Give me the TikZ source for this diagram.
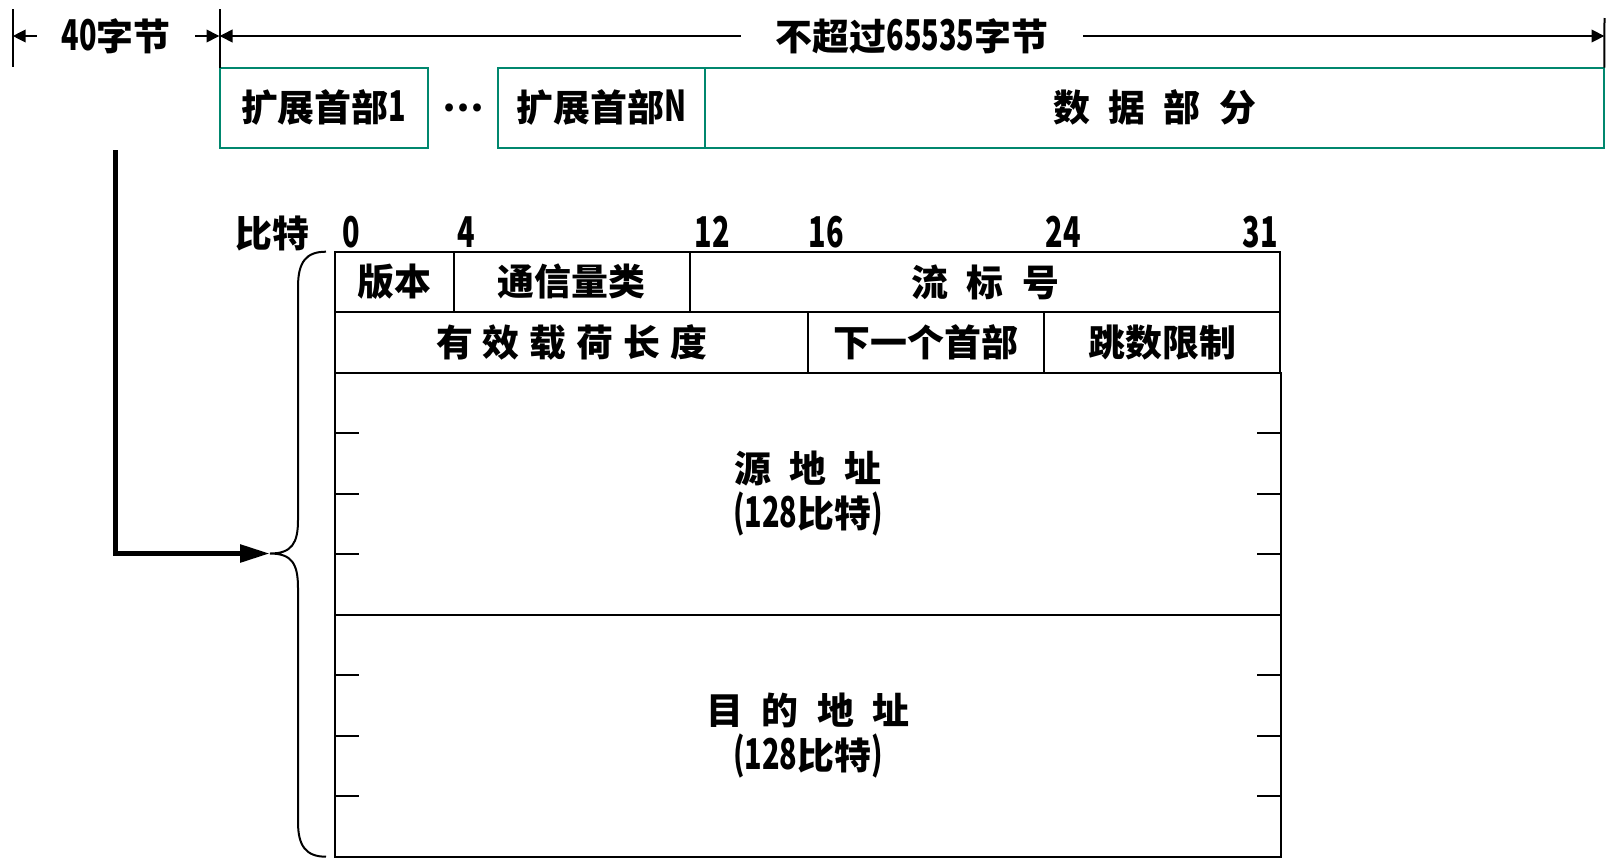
\documentclass[tikz,border=0pt]{standalone}
\usepackage{fontspec}
\setmainfont{Noto Sans CJK SC}[BoldFont={* Black}]
\newfontfamily\narrowfont{Noto Sans CJK SC}[BoldFont={* Black},FakeStretch=0.68,Scale=1.15]
\usetikzlibrary{positioning,arrows.meta}
\definecolor{verdeCab}{RGB}{0,135,110}
\newcommand{\estrecho}[1]{{\narrowfont\bfseries #1}}
\newcommand{\zigap}{\hspace{0.5em}}
\tikzstyle{Texto}=[font=\fontsize{21}{25}\selectfont\bfseries, inner sep=0pt]
\tikzstyle{Cabecera}=[rectangle, draw=verdeCab, line width=0.04cm, minimum height=1.606cm, inner sep=0pt, outer sep=0pt, font=\fontsize{21}{25}\selectfont\bfseries]
\tikzstyle{Celda}=[rectangle, draw=black, line width=0.04cm, minimum height=1.21cm, inner sep=0pt, outer sep=0pt, align=center, font=\fontsize{21}{25.8}\selectfont\bfseries]
\tikzstyle{BitNum}=[anchor=base, inner sep=0pt, font=\fontsize{21}{25}\selectfont\bfseries]
\tikzstyle{Cota}=[-{Triangle[length=2.6mm,width=2.5mm]}, line width=0.04cm]
\tikzstyle{Marca}=[line width=0.04cm]
\tikzstyle{Flecha}=[-{Triangle[length=6mm,width=3.4mm]}, line width=0.11cm]

\begin{document}
\begin{tikzpicture}[x=0.02cm,y=-0.02cm]
			\useasboundingbox (0,0) rectangle (1618,859);

			%Cabeceras
			\node[Cabecera, minimum width=4.164cm, anchor=north west]	(ext1) at (219.5,67.7)	{扩展首部\estrecho{1}};
			\node[Cabecera, minimum width=4.13cm]		(extN)		[right=1.412cm of ext1]	{扩展首部\estrecho{N}};
			\node[Cabecera, minimum width=17.994cm]	(datos)		[right=0cm of extN]		{数\zigap 据\zigap 部\zigap 分};
			\path (ext1.east) -- (extN.west) node[midway, Texto] (puntos) {⋯};

			%Cotas
			\node[Texto, inner xsep=0.49cm]	(lbl40)	at (116,36)		{\estrecho{40}字节};
			\node[Texto, inner xsep=0.69cm]	(lblmax)	at (912,36)		{不超过\estrecho{65535}字节};
			\coordinate (cotaIzq) at (12.7,36);
			\coordinate (cotaMed) at (219.5,36);
			\coordinate (cotaDer) at (1604.5,36);
			\draw[Marca] (12.7,9) -- (12.7,67);
			\draw[Marca] (219.5,9) -- (ext1.north west);
			\draw[Marca] (1604.5,18) -- (datos.north east);
			\draw[Cota] (lbl40.west) -- (cotaIzq);
			\draw[Cota] (lbl40.east) -- (cotaMed);
			\draw[Cota] (lblmax.west) -- (cotaMed);
			\draw[Cota] (lblmax.east) -- (cotaDer);

			%Tabla
			\node[Celda, minimum width=2.363cm, anchor=north west]	(version) at (335.4,251.7)	{版本};
			\node[Celda, minimum width=4.726cm]	(trafico)	[right=0cm of version]	{通信量类};
			\node[Celda, minimum width=11.816cm]	(flujo)		[right=0cm of trafico]	{流\zigap 标\zigap 号};
			\node[Celda, minimum width=9.453cm, anchor=north west]	(carga) at (version.south west)	{有\hspace{0.27em}效\hspace{0.27em}载\hspace{0.27em}荷\hspace{0.27em}长\hspace{0.27em}度};
			\node[Celda, minimum width=4.726cm]	(siguiente)	[right=0cm of carga]		{下一个首部};
			\node[Celda, minimum width=4.726cm]	(saltos)	[right=0cm of siguiente]	{跳数限制};
			\node[Celda, minimum width=18.906cm, minimum height=4.84cm, anchor=north west]	(origen) at (carga.south west)	{源\zigap 地\zigap 址\\\estrecho{(128}比特\estrecho{)}};
			\node[Celda, minimum width=18.906cm, minimum height=4.84cm, anchor=north west]	(destino) at (origen.south west)	{目\zigap 的\zigap 地\zigap 址\\\estrecho{(128}比特\estrecho{)}};

			\foreach \k in {1,2,3} {
				\draw[Marca] (origen.north west) ++(0,\k*60.5) -- ++(24,0);
				\draw[Marca] (origen.north east) ++(0,\k*60.5) -- ++(-24,0);
				\draw[Marca] (destino.north west) ++(0,\k*60.5) -- ++(24,0);
				\draw[Marca] (destino.north east) ++(0,\k*60.5) -- ++(-24,0);
			}

			%Bits
			\node[BitNum] (bits) at (272,247) {比特};
			\foreach \n/\x in {0/351,4/466,12/712,16/826,24/1063,31/1260}
				\node[BitNum] (bit\n) at (\x,247) {\estrecho{\n}};

			%Llave
			\draw[Marca] (326,251.7) .. controls (306,251.7) and (298,262) .. (298,287) -- (298,520) .. controls (298,543) and (292,553.5) .. (270,553.5) .. controls (292,553.5) and (298,564) .. (298,588) -- (298,822) .. controls (298,846) and (306,856.7) .. (326,856.7);

			%Lineas
			\coordinate (base40) at (115.6,150);
			\coordinate (llave) at (270,553.5);
			\draw[Flecha] (base40) |- (llave);

		\end{tikzpicture}
\end{document}
